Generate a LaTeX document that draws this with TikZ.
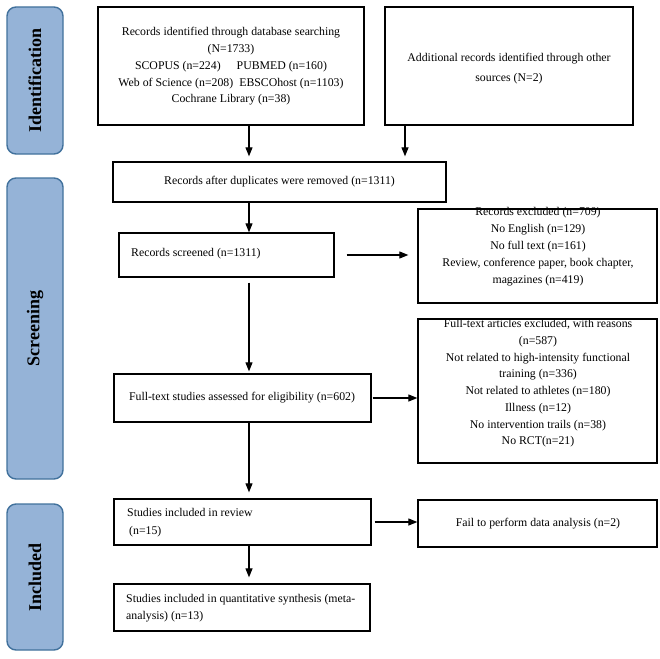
\documentclass[tikz,border=0pt]{standalone}
\usepackage{fontspec}
\setmainfont{Liberation Serif}
\usetikzlibrary{arrows.meta}
\definecolor{sidefill}{RGB}{149,179,215}
\definecolor{sidedraw}{RGB}{65,113,156}
\begin{document}
\begin{tikzpicture}[x=1pt,y=-1pt,
  flowbox/.style={draw=black, line width=1.3pt, inner sep=0pt},
  side/.style={draw=sidedraw, fill=sidefill, line width=1.4pt, rounded corners=9pt, minimum width=56pt, inner sep=0pt},
  sidelabel/.style={rotate=90, inner sep=0pt, font=\fontsize{18}{20}\selectfont\bfseries},
  txt/.style={inner sep=0pt, font=\fontsize{11.8}{16.7}\selectfont},
  arr/.style={-{Triangle[length=9pt,width=7pt]}, line width=1.1pt}
]
\useasboundingbox (0,0) rectangle (660,658);
% side panels
\node[side, minimum height=147pt] (s1) at (35,80.5) {};
\node[sidelabel] (s1t) at (35,80.5) {Identification};
\node[side, minimum height=301pt] (s2) at (35,328.5) {};
\node[sidelabel] (s2t) at (35,328.5) {Screening};
\node[side, minimum height=146pt] (s3) at (35,577) {};
\node[sidelabel] (s3t) at (35,577) {Included};
% boxes
\node[flowbox, minimum width=266pt, minimum height=118pt] (b1) at (231,66) {};
\node[txt, align=center] (b1t) at (231,66.5) {Records identified through database searching\\(N=1733)\\SCOPUS (n=224)\hspace{16pt}PUBMED (n=160)\\Web of Science (n=208)\hspace{6pt}EBSCOhost (n=1103)\\Cochrane Library (n=38)};
\node[flowbox, minimum width=248pt, minimum height=118pt] (b2) at (509,66) {};
\node[txt, align=center, font=\fontsize{11.8}{20.7}\selectfont] (b2t) at (509,68.5) {Additional records identified through other\\sources (N=2)};
\node[flowbox, minimum width=333pt, minimum height=40pt] (b3) at (279.5,182) {};
\node[txt] (b3t) at (279.5,182) {Records after duplicates were removed (n=1311)};
\node[flowbox, minimum width=215pt, minimum height=44pt] (b4) at (226.5,255) {};
\node[txt, anchor=west] (b4t) at (131,254) {Records screened (n=1311)};
\node[flowbox, minimum width=239pt, minimum height=94pt] (b5) at (537.5,256) {};
\node[txt, align=center, font=\fontsize{11.8}{17}\selectfont] (b5t) at (538,247) {Records excluded (n=709)\\No English (n=129)\\No full text (n=161)\\Review, conference paper, book chapter,\\magazines (n=419)};
\node[flowbox, minimum width=257pt, minimum height=48pt] (b6) at (242.5,398) {};
\node[txt] (b6t) at (242,398) {Full-text studies assessed for eligibility (n=602)};
\node[flowbox, minimum width=239pt, minimum height=144pt] (b7) at (537.5,391) {};
\node[txt, align=center] (b7t) at (538,383.5) {Full-text articles excluded, with reasons\\(n=587)\\Not related to high-intensity functional\\training (n=336)\\Not related to athletes (n=180)\\Illness (n=12)\\No intervention trails (n=38)\\No RCT(n=21)};
\node[flowbox, minimum width=257pt, minimum height=46pt] (b8) at (242.5,522) {};
\node[txt, align=left, anchor=west, font=\fontsize{11.8}{18}\selectfont] (b8t) at (127,523) {Studies included in review\\\hspace{2pt}(n=15)};
\node[flowbox, minimum width=239pt, minimum height=47pt] (b9) at (537.5,523.5) {};
\node[txt] (b9t) at (538,524) {Fail to perform data analysis (n=2)};
\node[flowbox, minimum width=256pt, minimum height=47pt] (b10) at (242,607.5) {};
\node[txt, align=left, anchor=west, font=\fontsize{11.8}{17}\selectfont] (b10t) at (126,608.5) {Studies included in quantitative synthesis (meta-\\analysis) (n=13)};
% spine coordinates
\coordinate (sp) at (249,0);
\coordinate (sp2) at (405,0);
% connectors
\draw[arr, shorten >=5pt] (b1.south -| sp) -- (b3.north -| sp);
\draw[arr, shorten >=5pt] (b2.south -| sp2) -- (b3.north -| sp2);
\draw[arr] (b3.south -| sp) -- (b4.north -| sp);
\draw[arr, shorten <=12pt, shorten >=9pt] (b4.east) -- (b4.east -| b5.west);
\draw[arr, shorten <=5pt, shorten >=2pt] (b4.south -| sp) -- (b6.north -| sp);
\draw[arr, shorten <=1pt] (b6.east) -- (b6.east -| b7.west);
\draw[arr, shorten >=6pt] (b6.south -| sp) -- (b8.north -| sp);
\draw[arr, shorten <=3pt] (b8.east) -- (b8.east -| b9.west);
\draw[arr, shorten >=6pt] (b8.south -| sp) -- (b10.north -| sp);
\end{tikzpicture}
\end{document}
